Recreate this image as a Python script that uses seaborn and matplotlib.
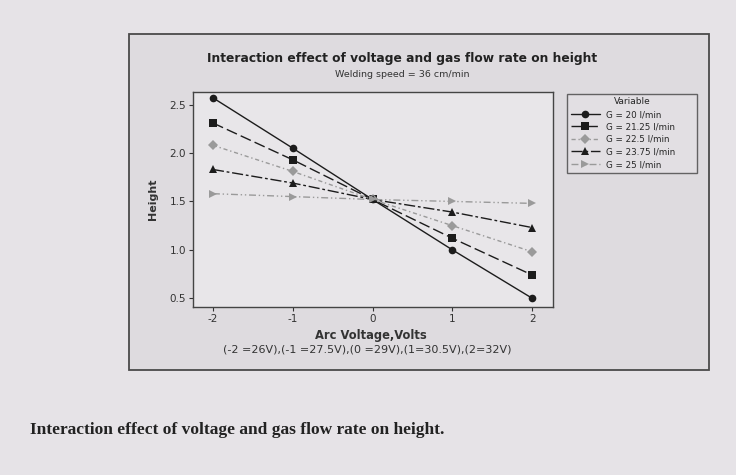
import matplotlib
matplotlib.use("Agg")
import matplotlib.pyplot as plt
from matplotlib.patches import Rectangle
import seaborn as sns
import pandas as pd

voltage = [-2, -1, 0, 1, 2]
series_names = ["G = 20 l/min", "G = 21.25 l/min", "G = 22.5 l/min", "G = 23.75 l/min", "G = 25 l/min"]
h_g20 = [2.57, 2.05, 1.52, 1.00, 0.50]
h_g2125 = [2.31, 1.93, 1.52, 1.12, 0.74]
h_g225 = [2.08, 1.81, 1.52, 1.25, 0.98]
h_g2375 = [1.83, 1.69, 1.52, 1.39, 1.23]
h_g25 = [1.58, 1.55, 1.52, 1.50, 1.48]
yticks = [0.5, 1.0, 1.5, 2.0, 2.5]

rows = []
for name, vals in zip(series_names, [h_g20, h_g2125, h_g225, h_g2375, h_g25]):
    for v, h in zip(voltage, vals):
        rows.append({"Arc Voltage": v, "Height": h, "Variable": name})
df = pd.DataFrame(rows)

sns.set_theme(style="white")
plt.rcParams['font.family'] = ['DejaVu Sans']

palette = dict(zip(series_names, ["#1c1c1c", "#1c1c1c", "#9a9a9a", "#1c1c1c", "#9a9a9a"]))
markers = dict(zip(series_names, ["o", "s", "D", "^", ">"]))
dashes = dict(zip(series_names, ["", (8, 3), (3, 2, 1, 2), (8, 2, 2, 2), (5, 2, 1, 2, 1, 2)]))

fig = plt.figure(figsize=(7.36, 4.75), dpi=100)
fig.patch.set_facecolor("#e6e3e7")
frame = Rectangle((0.1753, 0.2211), 0.788, 0.7073, transform=fig.transFigure,
                  facecolor="#dedbdf", edgecolor="#4a4a4a", lw=1.3, zorder=-5)
fig.patches.append(frame)

ax = fig.add_axes([0.2622, 0.3537, 0.4891, 0.4526])
ax.set_zorder(2)
ax.set_facecolor("#e8e6e9")
sns.lineplot(data=df, x="Arc Voltage", y="Height", hue="Variable", style="Variable",
             palette=palette, markers=markers, dashes=dashes, markersize=5.5,
             linewidth=1.0, markeredgewidth=0, ax=ax)

ax.set_xlim(-2.25, 2.26)
ax.set_ylim(0.41, 2.63)
ax.set_xticks(voltage)
ax.set_xticklabels([str(v) for v in voltage])
ax.set_yticks(yticks)
ax.set_yticklabels([f"{t:.1f}" for t in yticks])
ax.tick_params(axis="both", direction="out", length=3, width=0.8, color="#333333",
               labelsize=7.5, labelcolor="#333333", bottom=True, left=True, pad=2)
for s in ax.spines.values():
    s.set_color("#444444")
    s.set_linewidth(1.0)
ax.set_xlabel("")
ax.set_ylabel("Height", fontsize=8, fontweight="bold", color="#333333", labelpad=8)

fig.text(0.546, 0.8778, "Interaction effect of voltage and gas flow rate on height",
         ha="center", va="center", fontsize=8.8, fontweight="bold", color="#222222")
fig.text(0.546, 0.8442, "Welding speed = 36 cm/min", ha="center", va="center",
         fontsize=6.8, color="#333333")
fig.text(0.504, 0.2947, "Arc Voltage,Volts", ha="center", va="center",
         fontsize=8.3, fontweight="bold", color="#333333")
fig.text(0.499, 0.265, "(-2 =26V),(-1 =27.5V),(0 =29V),(1=30.5V),(2=32V)", ha="center",
         va="center", fontsize=8.0, color="#333333")

handles, labels = ax.get_legend_handles_labels()
ax.legend_.remove()
leg = fig.legend(handles, labels, title="Variable", loc="upper left", mode="expand",
                 bbox_to_anchor=(567 / 736, 1 - 171 / 475, 130 / 736, 77 / 475),
                 fontsize=6.3, title_fontsize=6.5,
                 frameon=True, fancybox=False, edgecolor="#444444", facecolor="#e4e1e5",
                 handlelength=3.4, handletextpad=0.7, labelspacing=0.4, borderpad=0.4,
                 borderaxespad=0)
leg.get_frame().set_linewidth(1.0)

fig.text(0.041, 0.094, "Interaction effect of voltage and gas flow rate on height.",
         ha="left", va="center", fontsize=12.5, fontweight="bold",
         family=["Liberation Serif", "DejaVu Serif"], color="#222222")

fig.savefig("out.png", dpi=100, facecolor=fig.get_facecolor())
